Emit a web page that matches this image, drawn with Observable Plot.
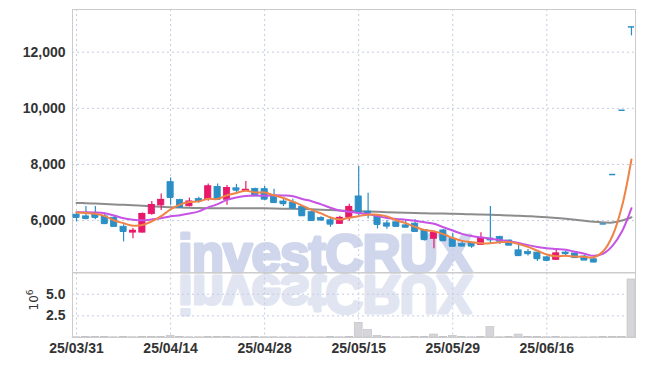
<!DOCTYPE html>
<html><head><meta charset="utf-8">
<script src="https://cdn.jsdelivr.net/npm/d3@7"></script>
<script src="https://cdn.jsdelivr.net/npm/@observablehq/plot@0.6"></script>
<style>
body{margin:0;background:#fff;}
#wrap{position:relative;width:645px;height:366px;overflow:hidden;}
#wrap > *{position:absolute;left:0;}
.wm{font-family:'Liberation Sans', Arial, sans-serif;font-weight:700;font-size:53px;letter-spacing:-1px;stroke-linejoin:round;}
</style></head><body>
<div id="wrap">
<svg id="wm" width="645" height="366" style="top:0">
  <text class="wm" x="178" y="272" fill="#d0d6eb" stroke="#d0d6eb" stroke-width="3">investCRUX</text>
  <text class="wm" x="178" y="272" transform="translate(0,548) scale(1,-1)" fill="#e1e5f1" stroke="#e1e5f1" stroke-width="3">investCRUX</text>
</svg>
<div id="main" style="top:0"></div>
<div id="vol" style="top:272px"></div>
<svg id="ylab" width="60" height="94" style="top:272px">
  <text transform="translate(38,28) rotate(-90)" text-anchor="middle" font-family="'DejaVu Sans', sans-serif" font-size="12" fill="#333">10<tspan dy="-5" font-size="9">6</tspan></text>
</svg>
</div>
<script>
const dates = ["25/03/31","25/04/01","25/04/02","25/04/03","25/04/04","25/04/07","25/04/08","25/04/09","25/04/10","25/04/11",
  "25/04/14","25/04/15","25/04/16","25/04/17","25/04/18","25/04/21","25/04/22","25/04/23","25/04/24","25/04/25",
  "25/04/28","25/04/29","25/04/30","25/05/02","25/05/07","25/05/08","25/05/09","25/05/12","25/05/13","25/05/14",
  "25/05/15","25/05/16","25/05/19","25/05/20","25/05/21","25/05/22","25/05/23","25/05/26","25/05/27","25/05/28",
  "25/05/29","25/05/30","25/06/02","25/06/04","25/06/05","25/06/09","25/06/10","25/06/11","25/06/12","25/06/13",
  "25/06/16","25/06/17","25/06/18","25/06/19","25/06/20","25/06/23","25/06/24","25/06/25","25/06/26","25/06/27"];
const opens = [6210,6150,6200,6150,6100,5780,5570,5570,6230,6540,
  7370,6730,6510,6770,6760,7200,6740,7150,7050,7130,
  7120,6850,6680,6640,6490,6300,6090,6010,5880,6100,
  6860,6320,6160,5900,5940,5830,5890,5660,5350,5650,
  5350,5170,5210,5130,5360,5420,5290,4940,4880,4860,
  4690,4600,4860,4830,4720,4620,5880,7640,9930,12900];
const highs = [6280,6500,6500,6270,6150,5850,5720,6270,6680,6950,
  7520,6760,6800,6830,7300,7300,7250,7290,7390,7150,
  7210,7120,6800,6760,6500,6310,6140,6120,6150,6580,
  7930,6970,6170,6000,5950,6000,6030,5680,5620,5680,
  5550,5260,5230,5570,6500,5440,5310,5150,4970,4870,
  4720,5000,4910,4840,4760,4680,5880,7640,9930,12900];
const lows = [5950,6030,6030,5890,5790,5240,5350,5560,6190,6360,
  6550,6460,6490,6620,6690,6740,6550,6990,7040,6870,
  6720,6640,6500,6390,6170,6000,5970,5760,5870,5980,
  6180,6060,5700,5690,5790,5760,5600,5270,5000,5250,
  5080,5070,5010,5120,5150,5150,5110,4750,4740,4540,
  4530,4590,4740,4680,4590,4500,5880,7640,9930,12580];
const closes = [6120,6080,6120,5900,5800,5620,5640,6240,6560,6740,
  6830,6480,6680,6690,7220,6760,7160,7090,7100,6890,
  6770,6650,6610,6450,6180,6010,6030,5880,6100,6490,
  6290,6290,5870,5810,5800,5770,5620,5330,5570,5290,
  5090,5100,5100,5360,5320,5270,5130,4760,4830,4650,
  4590,4830,4830,4690,4600,4530,5880,7640,9930,12900];
// volume in millions of shares
const volumes = [0.03,0.06,0.06,0.06,0.03,0.05,0.03,0.05,0.05,0.05,
  0.2,0.07,0.03,0.03,0.05,0.05,0.05,0.03,0.03,0.06,
  0.03,0.03,0.02,0.02,0.02,0.02,0.02,0.05,0.03,0.06,
  1.7,0.87,0.19,0.08,0.03,0.03,0.06,0.06,0.34,0.07,
  0.2,0.05,0.03,0.07,1.2,0.03,0.06,0.34,0.07,0.07,
  0.03,0.05,0.02,0.02,0.02,0.03,0.05,0.05,0.05,6.7];
const ma5 = [6290,6270,6240,6160,6004,5904,5816,5840,5972,6160,
  6402,6570,6658,6684,6780,6766,6902,6984,7066,7000,
  7002,6900,6804,6674,6532,6380,6256,6110,6040,6102,
  6158,6210,6208,6150,6012,5908,5774,5666,5618,5516,
  5380,5276,5230,5188,5194,5230,5236,5168,5062,4928,
  4792,4732,4746,4718,4708,4696,4906,5468,6516,8176];
const ma10 = [6300,6300,6290,6260,6180,6080,6030,6010,6040,6082,
  6153,6193,6249,6328,6470,6584,6736,6821,6875,6890,
  6884,6901,6894,6870,6766,6691,6578,6457,6357,6317,
  6269,6233,6159,6095,6057,6033,5992,5937,5884,5764,
  5644,5525,5448,5403,5355,5305,5256,5199,5125,5061,
  5011,4984,4957,4890,4818,4744,4819,5107,5617,6442];
const maLong = [6630,6620,6605,6590,6575,6560,6545,6530,6510,6490,
  6475,6465,6455,6445,6440,6440,6440,6440,6440,6440,
  6435,6430,6425,6420,6410,6400,6390,6375,6360,6345,
  6330,6320,6310,6300,6290,6280,6270,6260,6255,6248,
  6240,6232,6225,6215,6205,6195,6185,6170,6155,6140,
  6120,6095,6065,6030,5990,5955,5935,5930,6000,6120];
const yTicks = [6000, 8000, 10000, 12000];
const volTicks = [2.5, 5];
const tickIndex = [0, 10, 20, 30, 40, 50];

const candles = dates.map((date, i) => ({
  i, date, open: opens[i], high: highs[i], low: lows[i], close: closes[i],
  vol: volumes[i], ma5: ma5[i], ma10: ma10[i], maLong: maLong[i]
}));

const BLUE = "#2b8fc6", RED = "#e8196a";
const colorOf = d => d.close > d.open ? RED : BLUE;
const GRID = "#c5cbe0";
const xDomain = [-0.43, 59.43];
const font = "'Liberation Sans Narrow', 'Arial Narrow', sans-serif";

const main = Plot.plot({
  width: 645, height: 273,
  marginTop: 9, marginBottom: 1, marginLeft: 72, marginRight: 10,
  style: {background: "transparent", fontFamily: font, fontSize: "14px", fontWeight: "bold", color: "#333"},
  x: {domain: xDomain, axis: null},
  y: {domain: [4150, 13520], ticks: yTicks, tickFormat: d3.format(","), tickSize: 0, tickPadding: 7, label: null},
  marks: [
    Plot.ruleY(yTicks, {stroke: GRID, strokeDasharray: "2,3"}),
    Plot.ruleX(tickIndex, {stroke: GRID, strokeDasharray: "2,3"}),
    Plot.frame({stroke: "#cccccc"}),
    Plot.line(candles, {x: "i", y: "maLong", stroke: "#7f7f7f", strokeWidth: 2, strokeOpacity: 0.9, curve: "catmull-rom"}),
    Plot.ruleX(candles, {x: "i", y1: "low", y2: "high", stroke: colorOf, strokeWidth: 1.2}),
    Plot.rect(candles, {x1: d => d.i - 0.33, x2: d => d.i + 0.33, y1: "open", y2: "close", fill: colorOf, stroke: colorOf, strokeWidth: 0.8}),
    Plot.ruleY(candles, {x1: d => d.i - 0.33, x2: d => d.i + 0.33, y: "close", stroke: colorOf, strokeWidth: 1.5}),
    Plot.line(candles, {x: "i", y: "ma10", stroke: "#c653e6", strokeWidth: 2, curve: "catmull-rom"}),
    Plot.line(candles, {x: "i", y: "ma5", stroke: "#ef8348", strokeWidth: 2, curve: "catmull-rom"})
  ]
});
document.getElementById("main").appendChild(main);

const vol = Plot.plot({
  width: 645, height: 94,
  marginTop: 0.5, marginBottom: 29, marginLeft: 72, marginRight: 10,
  style: {background: "transparent", fontFamily: font, fontSize: "14px", fontWeight: "bold", color: "#333"},
  x: {domain: xDomain, ticks: tickIndex, tickFormat: i => dates[i], tickSize: 0, tickPadding: 6, label: null},
  y: {domain: [0, 7.45], ticks: volTicks, tickFormat: d3.format(".1f"), tickSize: 0, tickPadding: 7, label: null},
  marks: [
    Plot.ruleY(volTicks, {stroke: GRID, strokeDasharray: "2,3"}),
    Plot.ruleX(tickIndex, {stroke: GRID, strokeDasharray: "2,3"}),
    Plot.rect(candles, {x1: d => d.i - 0.42, x2: d => d.i + 0.42, y1: 0, y2: "vol", fill: "#d5d5da", stroke: "#bfbfc4", strokeWidth: 0.6}),
    Plot.frame({stroke: "#cccccc"})
  ]
});
document.getElementById("vol").appendChild(vol);
</script>
</body></html>
